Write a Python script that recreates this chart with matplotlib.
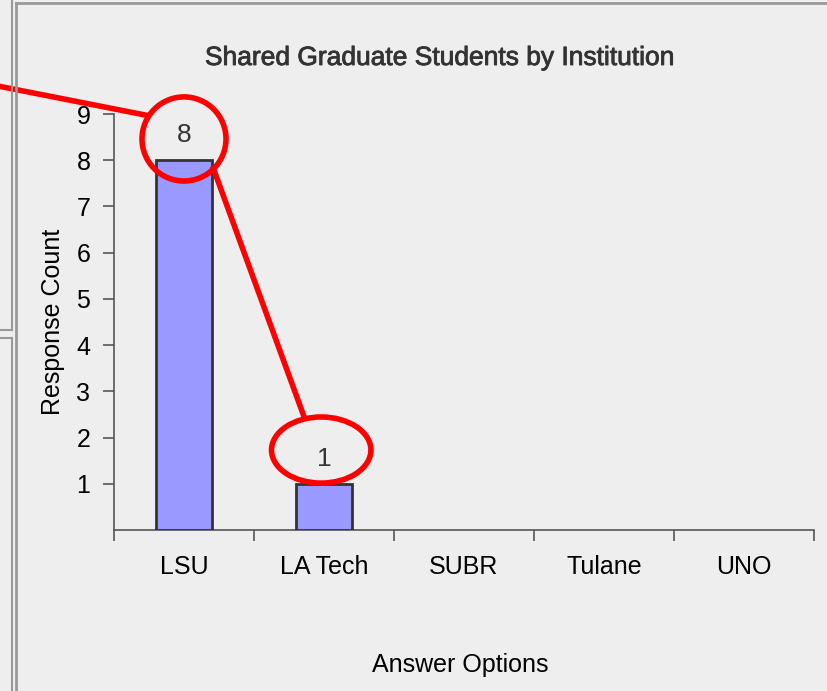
import matplotlib.pyplot as plt
import matplotlib.patheffects as pe
from matplotlib.patches import Ellipse
from matplotlib.lines import Line2D
import numpy as np

# Daten
kategorien = ["LSU", "LA Tech", "SUBR", "Tulane", "UNO"]
antworten = [8, 1, 0, 0, 0]

bg = "#eeeeee"
W, H = 827, 691

fig = plt.figure(figsize=(W / 100, H / 100), dpi=100, facecolor=bg)
ax = fig.add_axes([114 / W, (H - 530) / H, 700 / W, 416 / H])
ax.set_facecolor(bg)

x = np.arange(len(kategorien))
balken = ax.bar(x, antworten, width=0.4, color="#9999ff", edgecolor="#333333", linewidth=2, zorder=3)
for b, v in zip(balken, antworten):
    if v == 0:
        b.set_linewidth(0)

for i, v in enumerate(antworten):
    if v > 0:
        ax.text(i, v + 0.28, str(v), ha="center", va="bottom", fontsize=19,
                color="#333333", family="Liberation Sans")

ax.set_xlim(-0.5, len(kategorien) - 0.5)
ax.set_ylim(0, 9)
ax.set_yticks(range(1, 10))
ax.set_xticks(x)
ax.set_xticklabels(kategorien, family="Liberation Sans", fontsize=18)
ax.set_xticks(np.arange(-0.5, len(kategorien)), minor=True)
ax.tick_params(axis="x", which="major", length=0, pad=18)
ax.tick_params(axis="x", which="minor", length=8, color="#555555", width=1.2)
ax.tick_params(axis="y", length=8, color="#555555", width=1.2, labelsize=18, pad=9)
for lab in ax.get_yticklabels():
    lab.set_family("Liberation Sans")

for s in ["top", "right"]:
    ax.spines[s].set_visible(False)
ax.spines["left"].set_color("#555555")
ax.spines["bottom"].set_color("#555555")
ax.spines["left"].set_linewidth(1.2)
ax.spines["bottom"].set_linewidth(1.2)

ax.set_ylabel("Response Count", family="Liberation Sans", fontsize=18, labelpad=8)
fig.text(460 / W, 1 - 665 / H, "Answer Options", ha="center", va="center",
         family="Liberation Sans", fontsize=18)
titel = fig.text(440 / W, 1 - 58 / H, "Shared Graduate Students by Institution", ha="center",
                 va="center", family="Liberation Sans", fontsize=19, color="#333333")
titel.set_path_effects([pe.withStroke(linewidth=0.6, foreground="#333333")])

# rote Markierungen
rot = "#ff0000"
ax.add_patch(Ellipse((0, 8.46), 0.6, 1.82, fill=False, edgecolor=rot, linewidth=4,
                     clip_on=False, zorder=5))
ax.add_patch(Ellipse((0.98, 1.73), 0.71, 1.43, fill=False, edgecolor=rot, linewidth=4,
                     clip_on=False, zorder=5))
ax.plot([-1.32, -0.28], [9.6, 8.98], color=rot, linewidth=4, clip_on=False, zorder=5)
ax.plot([0.21, 0.86], [7.82, 2.43], color=rot, linewidth=4, clip_on=False, zorder=5)

# Rahmen links/oben
grau = "#999999"
fig.add_artist(Line2D([16 / W, 1], [1 - 3 / H] * 2, color=grau, linewidth=2))
fig.add_artist(Line2D([16 / W] * 2, [0, 1 - 3 / H], color=grau, linewidth=2))
fig.add_artist(Line2D([12 / W] * 2, [1 - 330 / H, 1], color=grau, linewidth=1.5))
fig.add_artist(Line2D([12 / W] * 2, [0, 1 - 338 / H], color=grau, linewidth=1.5))
fig.add_artist(Line2D([0, 12 / W], [1 - 330 / H] * 2, color=grau, linewidth=1.5))
fig.add_artist(Line2D([0, 12 / W], [1 - 338 / H] * 2, color=grau, linewidth=1.5))

fig.savefig("out.png", dpi=100, facecolor=bg)
